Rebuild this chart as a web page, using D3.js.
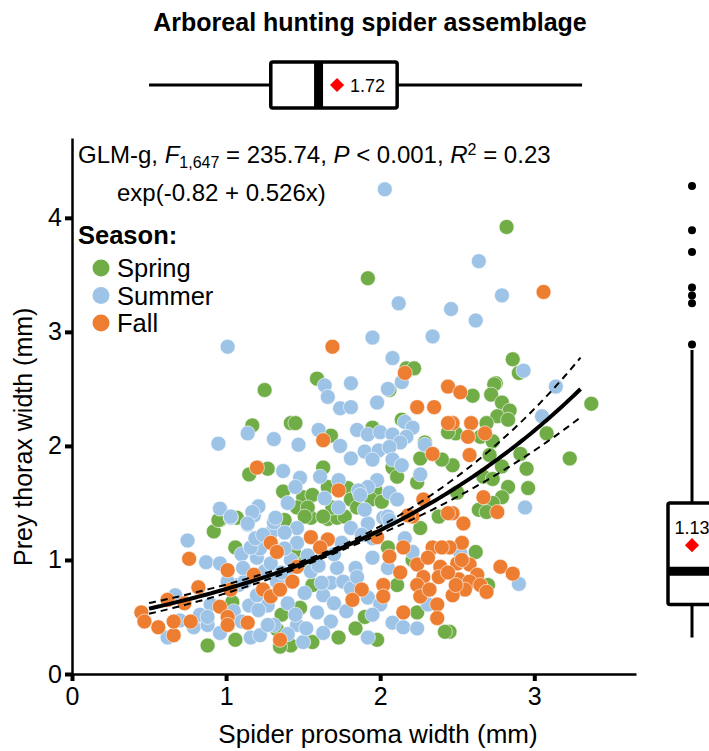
<!doctype html>
<html lang="en">
<head>
<meta charset="utf-8">
<script src="https://cdn.jsdelivr.net/npm/d3@7"></script>
<style>
  body { margin: 0; background: white; font-family: Arial, "Liberation Sans", sans-serif; }
</style>
</head>
<body>
<svg id="chart" width="709" height="751"></svg>
<script>
// ---- data ----
const seasons = ["Spring", "Summer", "Fall"];
const seasonColors = ["#70AD47", "#9DC3E6", "#ED7D31"];

const spring = [
  [2.82,3.92],[1.92,3.47],[2.86,2.76],[2.90,2.64],[2.17,2.68],[2.22,2.68],[2.75,2.55],[1.59,2.59],[1.25,2.49],[3.37,2.37],[3.23,1.89],
  [2.74,2.54],[2.60,2.44],[2.72,2.45],[2.79,2.38],[2.84,2.31],[2.76,2.26],[2.83,2.23],[2.69,2.20],[2.49,2.11],[2.65,2.08],[2.73,2.04],
  [3.08,2.11],[2.71,1.92],[2.91,1.93],[2.47,1.83],[2.79,1.82],[2.95,1.80],[2.67,1.73],[2.73,1.71],[2.83,1.64],[2.96,1.63],[2.50,1.59],
  [2.79,1.55],[2.73,1.50],[2.64,1.44],[2.69,1.42],[2.62,1.07],[2.70,0.78],[2.45,0.37],
  [1.55,1.37],[1.66,1.36],[1.72,1.37],[2.26,1.28],[2.38,1.38],[2.05,1.11],[1.44,1.07],[1.51,0.98],[2.21,1.00],[1.56,0.78],[2.11,0.78],
  [2.24,0.54],[1.48,0.58],[1.90,0.50],[1.84,0.40],[1.73,0.32],[1.98,0.30],[1.56,0.28],[2.42,0.37],[1.42,0.25],
  [0.92,1.25],[0.96,1.35],[1.06,1.11],[0.88,0.25],[1.06,0.30],[1.36,0.52],[1.33,0.39],[1.35,0.24],[1.04,0.63],
  [1.17,2.18],[1.42,2.20],[1.15,1.75],[1.27,1.80],[1.37,1.60],[0.95,1.35],[1.07,1.37],[1.38,1.35],
  [2.06,2.49],[2.44,2.12],[1.45,2.20],[1.68,2.09],[1.95,2.16],[2.14,2.23],[2.29,2.03],[2.26,1.89],[2.40,1.88],[2.08,1.81],[2.11,1.73],
  [2.24,1.68],[1.97,1.61],[1.94,1.53],[2.01,1.51],[1.79,1.63],[1.66,1.64],[1.63,1.81],[1.50,1.55],[1.56,1.57],[1.81,1.53],[1.46,1.46],
  [1.53,1.46],[1.69,1.46],[1.85,1.46],[1.63,1.38],[1.77,1.38],[1.51,1.38]
];

const summer = [
  [2.03,4.25],[2.64,3.62],[2.79,3.32],[2.12,3.25],[2.46,3.20],[2.62,3.10],[1.01,2.87],[1.95,2.95],[2.34,2.96],[2.08,2.77],[2.93,2.66],
  [1.64,2.53],[1.81,2.55],[2.14,2.56],[2.05,2.50],[3.14,2.52],[3.05,2.26],[2.94,1.46],[2.90,0.79],[2.52,1.06],
  [1.81,1.28],[1.92,1.32],[2.02,1.37],[1.46,1.28],[1.88,1.22],[1.95,1.19],[2.16,1.19],[2.21,1.07],[1.46,1.15],[1.53,1.04],[1.72,0.93],
  [1.84,0.93],[1.95,1.02],[2.05,0.93],[1.68,0.80],[1.76,0.81],[1.81,0.75],[1.51,0.71],[1.63,0.69],[1.92,0.67],[2.00,0.61],[2.31,0.61],
  [1.59,0.54],[1.68,0.46],[1.95,0.52],[2.08,0.45],[2.15,0.41],[2.24,0.40],[1.46,0.43],[1.63,0.36],[1.92,0.32],[1.50,0.28],
  [1.20,1.02],[1.25,0.90],[1.15,0.60],[1.27,0.60],[1.40,0.62],[1.40,0.85],[1.42,1.00],[1.38,1.10],[1.10,1.05],[1.05,0.55],[1.45,0.52],
  [1.55,0.90],[1.60,0.95],[1.70,1.05],[1.75,1.15],[1.62,0.80],[1.70,0.62],[1.78,0.55],[1.85,0.85],[1.40,0.35],[1.52,0.40],[1.08,0.78],
  [1.22,1.10],[1.30,1.25],
  [0.62,0.32],[0.70,0.47],[0.67,0.69],[0.79,0.41],[0.83,0.52],[0.88,0.43],[0.75,1.17],[0.87,0.98],[1.03,1.37],[1.14,1.31],[1.18,1.39],
  [0.96,0.97],[1.01,0.81],[0.90,0.61],[0.88,0.50],[0.96,0.36],[1.10,0.46],[1.16,0.32],[1.21,0.56],[1.20,0.69],[1.12,0.81],[1.11,0.93],
  [1.16,1.11],[1.19,1.19],[1.31,1.33],[1.24,1.22],[1.38,1.24],[1.29,0.97],[1.33,0.81],[1.36,0.89],[1.31,0.43],[1.22,0.34],[1.27,0.43],
  [1.14,2.11],[0.95,2.02],[1.31,2.06],[1.37,1.78],[0.96,1.45],[1.03,1.38],[1.21,1.47],[1.17,1.42],[1.32,1.37],[1.40,1.50],[1.14,1.32],
  [1.66,2.43],[1.74,2.33],[1.81,2.34],[1.98,2.38],[1.60,2.14],[1.47,2.01],[1.74,2.00],[1.81,1.89],[1.85,2.14],[1.92,2.10],[2.00,2.12],
  [2.08,2.10],[2.16,2.21],[2.21,2.16],[2.17,2.08],[1.90,1.95],[1.99,1.96],[1.95,1.88],[2.13,2.03],[2.06,1.99],[2.08,1.88],[2.14,1.83],
  [2.26,1.75],[1.98,1.70],[1.92,1.64],[1.86,1.61],[2.06,1.59],[2.11,1.53],[1.73,1.70],[1.61,1.73],[1.48,1.72],[1.45,1.64],[1.64,1.54],
  [1.87,1.57],[1.73,1.46],[1.90,1.44],[2.05,1.38],[2.06,1.35],[2.29,2.01]
];

const fall = [
  [3.06,3.35],[1.69,2.87],[2.16,2.64],[2.44,2.52],[2.52,2.47],
  [2.59,2.20],[2.47,2.20],[2.57,2.08],[2.68,2.11],[2.58,1.92],[2.67,1.55],[2.76,1.42],[2.47,1.41],[2.54,1.32],
  [2.53,1.15],[2.50,0.97],[2.58,0.96],[2.53,1.00],[2.78,0.94],[2.86,0.88],[2.51,0.83],[2.63,0.87],[2.58,0.81],[2.65,0.78],[2.69,0.72],
  [2.55,0.74],[2.47,0.69],[2.49,0.78],[2.45,1.11],
  [2.21,1.38],[1.55,1.20],[1.66,1.18],[1.61,1.11],[1.98,1.20],[2.15,1.11],[2.34,1.11],[2.40,1.11],[1.46,0.94],[2.06,1.03],[2.13,0.89],
  [2.24,0.96],[2.31,1.02],[2.39,0.94],[2.28,0.85],[2.38,0.85],[2.44,0.89],[1.43,0.81],[1.88,0.74],[2.02,0.78],[2.02,0.68],[2.24,0.78],
  [2.26,0.68],[2.32,0.74],[2.37,0.61],[1.82,0.65],[2.15,0.54],[2.37,0.49],
  [0.45,0.54],[0.47,0.46],[0.56,0.41],[0.66,0.34],[0.66,0.46],[0.62,0.65],[0.73,0.62],[0.77,0.46],[0.82,0.76],[0.76,1.01],[1.01,0.91],
  [1.03,0.74],[0.96,0.59],[1.01,0.50],[1.01,0.43],[1.14,0.45],[1.18,0.87],[1.29,1.15],[1.33,1.07],[1.24,0.74],[1.29,0.68],[1.35,0.74],
  [1.35,0.30],[1.20,1.81],
  [2.24,2.34],[2.35,2.34],[2.44,2.20],[1.63,2.05],[2.34,1.93],[1.73,1.61],[2.28,1.53],[2.44,1.41],[2.18,1.39]
];

const xTicks = [0, 1, 2, 3];
const yTicks = [0, 1, 2, 3, 4];

// GLM (gamma, log link) fit
const fitCoef = [-0.82, 0.526];
const fitRange = [0.5, 3.3];
const fitVar = [0.0001, 0.0011];   // var(eta) = a + b*(x - xbar)^2
const fitXbar = 1.72;

// marginal box plots: [whisker low, Q1, median, Q3, whisker high]
const xBox = [0.50, 1.29, 1.60, 2.11, 3.31];
const xMean = 1.72;
const yBox = [0.32, 0.61, 0.90, 1.50, 2.84];
const yMean = 1.13;
const yOutliers = [4.28, 3.89, 3.70, 3.39, 3.32, 3.25, 2.89];

// ---- layout ----
const svg = d3.select("#chart");
const x = d3.scaleLinear().domain([0, 3.66]).range([72, 636]);
const y = d3.scaleLinear().domain([0, 4.70]).range([674, 138]);

svg.append("text")
  .attr("x", 370).attr("y", 31)
  .attr("text-anchor", "middle")
  .style("font-weight", "bold").style("font-size", "25px")
  .text("Arboreal hunting spider assemblage");

// top box plot (x distribution)
const bY = 85, bH = 23;
const topBox = svg.append("g");
topBox.append("line")
  .attr("x1", x(xBox[0])).attr("x2", x(xBox[4]))
  .attr("y1", bY).attr("y2", bY)
  .attr("stroke", "black").attr("stroke-width", 3);
topBox.append("rect")
  .attr("x", x(xBox[1])).attr("y", bY - bH)
  .attr("width", x(xBox[3]) - x(xBox[1])).attr("height", 2 * bH)
  .attr("rx", 2)
  .attr("fill", "white").attr("stroke", "black").attr("stroke-width", 3.5);
topBox.append("line")
  .attr("x1", x(xBox[2])).attr("x2", x(xBox[2]))
  .attr("y1", bY - bH).attr("y2", bY + bH)
  .attr("stroke", "black").attr("stroke-width", 9);
topBox.append("path")
  .attr("d", d3.symbol(d3.symbolSquare, 100)())
  .attr("transform", `translate(${x(xMean)},${bY}) rotate(45)`)
  .attr("fill", "red");
topBox.append("text")
  .attr("x", x(xMean) + 13).attr("y", bY + 7)
  .style("font-size", "18px")
  .text(d3.format(".2f")(xMean));

// right box plot (y distribution)
const rX = 692, rW = 24;
const rightBox = svg.append("g");
rightBox.append("line")
  .attr("x1", rX).attr("x2", rX)
  .attr("y1", y(yBox[0])).attr("y2", y(yBox[4]))
  .attr("stroke", "black").attr("stroke-width", 3);
rightBox.append("rect")
  .attr("x", rX - rW).attr("y", y(yBox[3]))
  .attr("width", 2 * rW).attr("height", y(yBox[1]) - y(yBox[3]))
  .attr("rx", 2)
  .attr("fill", "white").attr("stroke", "black").attr("stroke-width", 3.5);
rightBox.append("line")
  .attr("x1", rX - rW).attr("x2", rX + rW)
  .attr("y1", y(yBox[2])).attr("y2", y(yBox[2]))
  .attr("stroke", "black").attr("stroke-width", 9);
rightBox.selectAll("circle")
  .data(yOutliers)
  .join("circle")
  .attr("cx", rX).attr("cy", d => y(d)).attr("r", 4)
  .attr("fill", "black");
rightBox.append("path")
  .attr("d", d3.symbol(d3.symbolSquare, 100)())
  .attr("transform", `translate(${rX},${y(yMean)}) rotate(45)`)
  .attr("fill", "red");
rightBox.append("text")
  .attr("x", rX).attr("y", y(yMean) - 11)
  .attr("text-anchor", "middle")
  .style("font-size", "18px")
  .text(d3.format(".2f")(yMean));

// points
const pts = svg.append("g");
[spring, summer, fall].forEach((set, i) => {
  pts.selectAll(null)
    .data(set)
    .join("circle")
    .attr("cx", d => x(d[0]))
    .attr("cy", d => y(d[1]))
    .attr("r", 7.5)
    .attr("fill", seasonColors[i])
    .attr("stroke", "white")
    .attr("stroke-width", 0.6);
});

// fitted curve and 95% band
const xs = d3.range(fitRange[0], fitRange[1] + 1e-9, 0.02);
const eta = v => fitCoef[0] + fitCoef[1] * v;
const se = v => Math.sqrt(fitVar[0] + fitVar[1] * (v - fitXbar) ** 2);
const line = d3.line().x(d => x(d[0])).y(d => y(d[1]));

svg.append("path")
  .datum(xs.map(v => [v, Math.exp(eta(v))]))
  .attr("d", line)
  .attr("fill", "none").attr("stroke", "black").attr("stroke-width", 4);
[1, -1].forEach(s => {
  svg.append("path")
    .datum(xs.map(v => [v, Math.exp(eta(v) + s * 1.96 * se(v))]))
    .attr("d", line)
    .attr("fill", "none").attr("stroke", "black")
    .attr("stroke-width", 2).attr("stroke-dasharray", "7,5");
});

// axes
const xAxis = svg.append("g")
  .attr("transform", `translate(0,${y(0)})`)
  .call(d3.axisBottom(x).tickValues(xTicks).tickSize(7).tickSizeOuter(0).tickPadding(6).tickFormat(d3.format("d")));
const yAxis = svg.append("g")
  .attr("transform", `translate(${x(0)},0)`)
  .call(d3.axisLeft(y).tickValues(yTicks).tickSize(7).tickSizeOuter(0).tickPadding(3).tickFormat(d3.format("d")));
[xAxis, yAxis].forEach(a => {
  a.select(".domain").attr("stroke-width", 2.5);
  a.selectAll(".tick line").attr("stroke-width", 4);
  a.selectAll(".tick text").style("font-size", "25px").style("font-family", "Arial, 'Liberation Sans', sans-serif").attr("fill", "black");
});

svg.append("text")
  .attr("x", 378).attr("y", 743)
  .attr("text-anchor", "middle")
  .style("font-size", "26px")
  .text("Spider prosoma width (mm)");
svg.append("text")
  .attr("transform", `translate(32,${y(2.08)}) rotate(-90)`)
  .attr("text-anchor", "middle")
  .style("font-size", "25px")
  .text("Prey thorax width (mm)");

// statistics text
const stat = svg.append("text").attr("x", 78).attr("y", 163).style("font-size", "24px");
stat.append("tspan").text("GLM-g, ");
stat.append("tspan").style("font-style", "italic").text("F");
stat.append("tspan").attr("dy", 5).style("font-size", "16px").text("1,647");
stat.append("tspan").attr("dy", -5).text(" = 235.74, ");
stat.append("tspan").style("font-style", "italic").text("P");
stat.append("tspan").text(" < 0.001, ");
stat.append("tspan").style("font-style", "italic").text("R");
stat.append("tspan").attr("dy", -8).style("font-size", "16px").text("2");
stat.append("tspan").attr("dy", 8).text(" = 0.23");

svg.append("text")
  .attr("x", 117).attr("y", 201)
  .style("font-size", "24px")
  .text(`exp(${fitCoef[0]} + ${fitCoef[1]}x)`);

// legend
svg.append("text")
  .attr("x", 78).attr("y", 244)
  .style("font-size", "25.5px").style("font-weight", "bold")
  .text("Season:");
const leg = svg.append("g");
seasons.forEach((s, i) => {
  const ly = 268 + i * 27.5;
  leg.append("circle").attr("cx", 101).attr("cy", ly).attr("r", 8.5).attr("fill", seasonColors[i]);
  leg.append("text").attr("x", 117).attr("y", ly + 9).style("font-size", "25.5px").text(s);
});
</script>
</body>
</html>
